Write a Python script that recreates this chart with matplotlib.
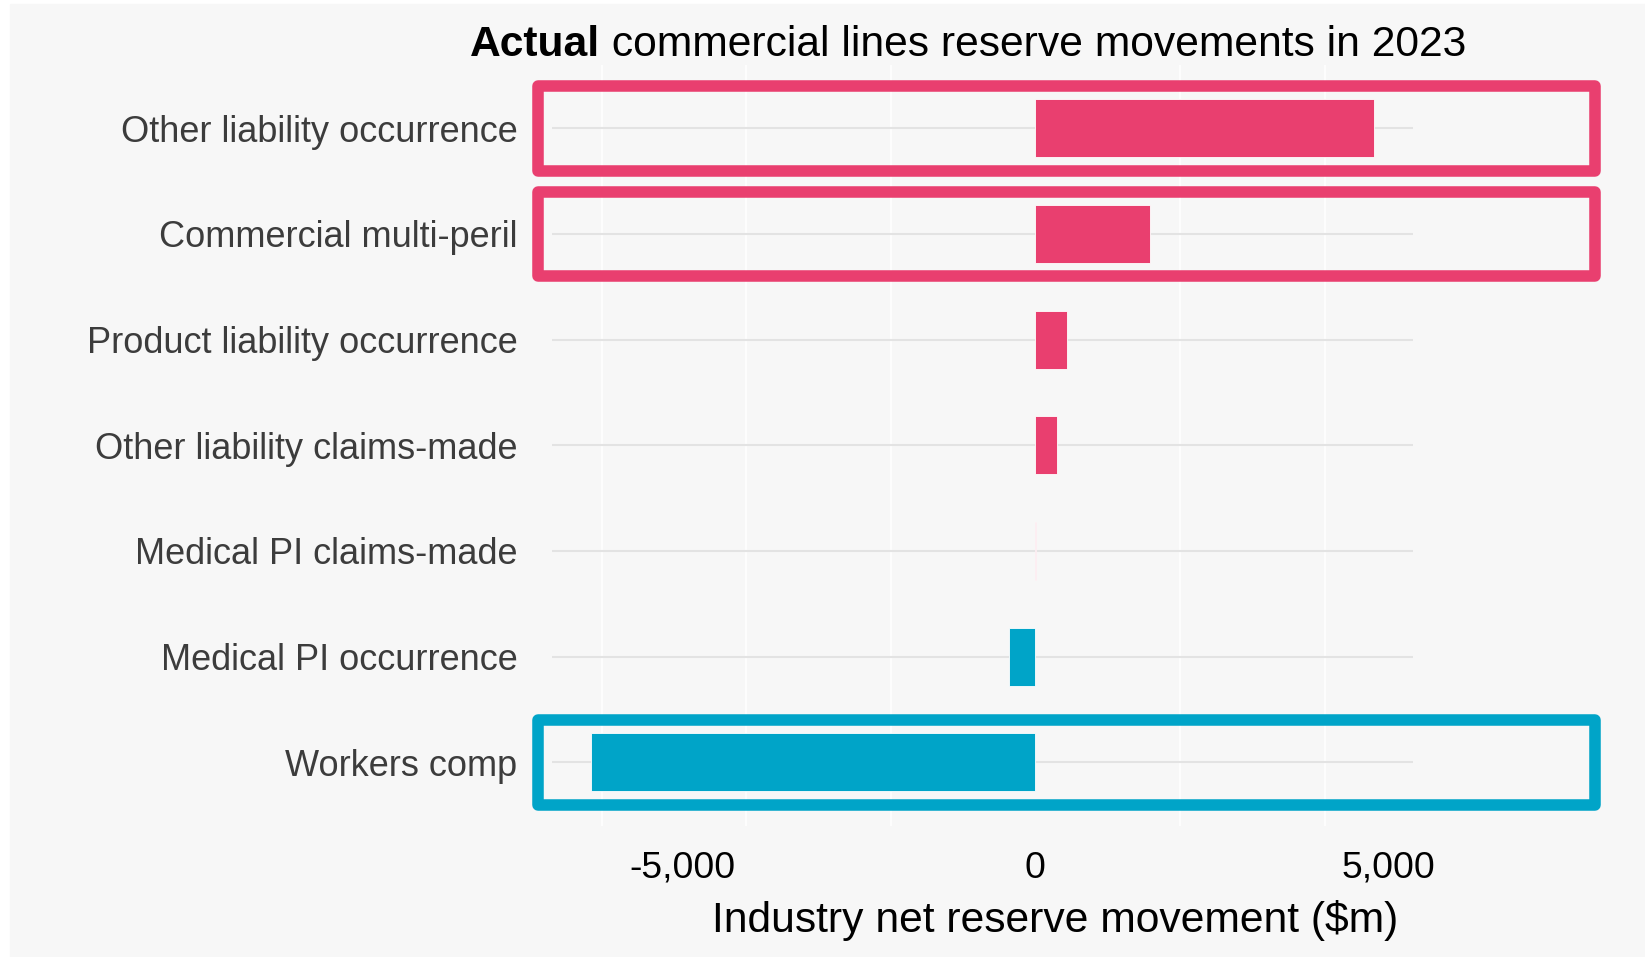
import matplotlib
matplotlib.use("Agg")
import matplotlib.pyplot as plt
import matplotlib.transforms as mtransforms
from matplotlib.patches import Rectangle
from matplotlib.ticker import FuncFormatter, FixedLocator, MultipleLocator

# Net reserve movement by commercial line ($m); positive = strengthening
lines = [
    "Other liability occurrence",
    "Commercial multi-peril",
    "Product liability occurrence",
    "Other liability claims-made",
    "Medical PI claims-made",
    "Medical PI occurrence",
    "Workers comp",
]
movement = [4800, 1620, 450, 310, 10, -380, -6300]
highlighted = ["Other liability occurrence", "Commercial multi-peril", "Workers comp"]
x_ticks = [-5000, 0, 5000]

title_bold = "Actual"
title_rest = "commercial lines reserve movements in 2023"
x_title = "Industry net reserve movement ($m)"

PINK = "#e93f6f"
BLUE = "#00a4c8"
PANEL = "#f7f7f7"
GRID = "#e3e3e3"
LABEL = "#3c3c3c"

plt.rcParams["font.family"] = ["Liberation Sans", "DejaVu Sans"]

W, H = 1645, 957
fig = plt.figure(figsize=(W / 100, H / 100), dpi=100, facecolor="white")
fig.patches.append(Rectangle((10 / W, 0), (W - 10) / W, (H - 4) / H,
                             transform=fig.transFigure, color=PANEL, zorder=-10))

ax = fig.add_axes([552 / W, (H - 825.7) / H, 861 / W, 760.8 / H])
ax.set_facecolor(PANEL)

ypos = list(range(len(lines)))
colors = [PINK if v >= 0 else BLUE for v in movement]
ax.barh(ypos, movement, height=0.55, color=colors, edgecolor="white",
        linewidth=0.6, zorder=3)

# ggplot-style limits: 5% expansion on x, 0.6 on the discrete axis
lo, hi = min(movement), max(movement)
pad = 0.05 * (hi - lo)
ax.set_xlim(lo - pad, hi + pad)
ax.set_ylim(len(lines) - 0.4, -0.6)

ax.set_yticks(ypos)
ax.set_yticklabels(lines)
ax.xaxis.set_major_locator(FixedLocator(x_ticks))
ax.xaxis.set_major_formatter(FuncFormatter(lambda v, p: f"{v:,.0f}".replace("\u2212", "-")))
ax.xaxis.set_minor_locator(MultipleLocator(2050))

ax.grid(False)
ax.yaxis.grid(True, color=GRID, linewidth=1.5, zorder=0)
ax.xaxis.grid(True, which="minor", color="white", linewidth=1.2, zorder=0)
ax.set_axisbelow(True)
for s in ax.spines.values():
    s.set_visible(False)

ax.tick_params(axis="both", which="both", length=0)
ax.tick_params(axis="y", labelsize=26, labelcolor=LABEL, pad=25)
ax.tick_params(axis="x", labelsize=26.8, labelcolor="black", pad=18)

# Highlight frames around the key lines, reaching beyond the panel
trans = mtransforms.blended_transform_factory(ax.transAxes, ax.transData)
for name in highlighted:
    i = lines.index(name)
    col = PINK if movement[i] >= 0 else BLUE
    ax.add_patch(Rectangle((-0.0157, i - 0.40), 1.2271, 0.80, transform=trans,
                           fill=False, edgecolor=col, linewidth=8.3,
                           joinstyle="round", clip_on=False, zorder=5))

fig.text(1055 / W, (H - 932) / H, x_title, fontsize=30.7, color="black",
         ha="center", va="baseline")

renderer = fig.canvas.get_renderer()
t1 = fig.text(470 / W, (H - 56) / H, title_bold, fontsize=30.7, fontweight="bold",
              color="black", ha="left", va="baseline")
bb = t1.get_window_extent(renderer)
fig.text(bb.x1 / W, (H - 56) / H, " " + title_rest, fontsize=30.7, color="black",
         ha="left", va="baseline")

fig.savefig("out.png", dpi=100, facecolor="white")
